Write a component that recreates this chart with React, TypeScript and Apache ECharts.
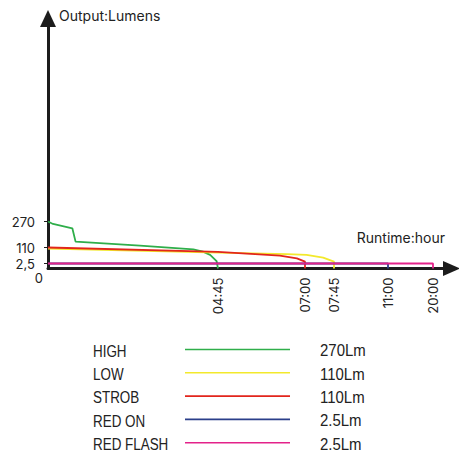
import React, { useEffect, useRef } from 'react';
import * as echarts from 'echarts';

// runtime axis ticks (hours) and their labels
const X_TICK_HOURS = [4.75, 7, 7.75, 11, 20];
const X_TICK_LABELS = ['04:45', '07:00', '07:45', '11:00', '20:00'];

// output axis ticks (lumens) and their labels
const Y_TICK_LUMENS = [0, 2.5, 110, 270];
const Y_TICK_LABELS = ['0', '2,5', '110', '270'];

// the drawing is not linear: these knots give where each value sits on the axis (px from origin)
const X_KNOT_HOURS = [0, 4.75, 7, 7.75, 11, 20];
const X_KNOT_POS = [0, 170, 257, 286, 340, 385];
const Y_KNOT_LUMENS = [0, 2.5, 110, 270];
const Y_KNOT_POS = [0, 5, 21, 47];

const SERIES_NAMES = ['HIGH', 'LOW', 'STROB', 'RED ON', 'RED FLASH'];
const SERIES_COLORS = ['#2fae4a', '#f3e92c', '#e2251c', '#2b3f8a', '#e3228a'];
const LEGEND_VALUES = ['270Lm', '110Lm', '110Lm', '2.5Lm', '2.5Lm'];

// [hours, lumens]
const HIGH = [
  [0, 270], [0.14, 255], [0.68, 228], [0.77, 146], [2.57, 121], [4.06, 98],
  [4.33, 82], [4.53, 60], [4.71, 19], [4.75, 0]
];
const LOW = [
  [0, 102], [4.75, 76], [6.53, 66], [7.04, 60], [7.47, 42], [7.75, 15], [7.75, 0]
];
const STROB = [
  [0, 110], [4.75, 80], [6.35, 55], [6.79, 37], [7, 15], [7, 0]
];
const RED_ON = [[0, 2.5], [11, 2.5], [11, 0]];
const RED_FLASH = [[0, 2.5], [20, 2.5], [20, 0]];

const SERIES_DATA = [HIGH, LOW, STROB, RED_ON, RED_FLASH];

const interp = (v: number, from: number[], to: number[]) => {
  for (let i = 1; i < from.length; i++) {
    if (v <= from[i]) {
      const t = (v - from[i - 1]) / (from[i] - from[i - 1]);
      return to[i - 1] + t * (to[i] - to[i - 1]);
    }
  }
  return to[to.length - 1];
};
const xPos = (h: number) => interp(h, X_KNOT_HOURS, X_KNOT_POS);
const yPos = (l: number) => interp(l, Y_KNOT_LUMENS, Y_KNOT_POS);

const FONT = 'Inter, "Noto Sans", sans-serif';
const LEGEND_FONT = '"Liberation Sans", Arial, sans-serif';

const GRID_LEFT = 48;
const GRID_TOP = 18.5;
const GRID_RIGHT = 15.5;
const GRID_BOTTOM = 193.5;
const X_MAX = 467 - GRID_LEFT - GRID_RIGHT;
const Y_MAX = 462 - GRID_TOP - GRID_BOTTOM;

// legend table below the chart
const LEGEND_TOP = 349.5;
const LEGEND_ROW = 23.3;

const App = () => {
  const chartRef = useRef<HTMLDivElement | null>(null);

  useEffect(() => {
    if (!chartRef.current) return;
    const chart = echarts.init(chartRef.current, null, { renderer: 'svg' });

    const xTickPos = X_TICK_HOURS.map(xPos);
    const yTickPos = Y_TICK_LUMENS.map(yPos);
    const axisColor = '#1c1c1c';

    // condensed look of the original legend lettering
    const legendText = (text: string, x: number, y: number, sx: number) => ({
      type: 'text',
      x,
      y: y + 1,
      scaleX: sx,
      silent: true,
      style: {
        text,
        fill: '#222',
        font: `17px ${LEGEND_FONT}`,
        align: 'left',
        verticalAlign: 'middle'
      }
    });

    const legendRows = SERIES_NAMES.flatMap((name, k) => {
      const y = LEGEND_TOP + k * LEGEND_ROW;
      return [
        legendText(name, 93, y, 0.79),
        {
          type: 'line',
          silent: true,
          shape: { x1: 185, y1: y, x2: 290, y2: y },
          style: { stroke: SERIES_COLORS[k], lineWidth: 1.6 }
        },
        legendText(LEGEND_VALUES[k], 320, y, 0.88)
      ];
    });

    chart.setOption({
      animation: false,
      grid: { left: GRID_LEFT, top: GRID_TOP, right: GRID_RIGHT, bottom: GRID_BOTTOM },
      xAxis: {
        type: 'value',
        min: 0,
        max: X_MAX,
        name: 'Runtime:hour',
        nameLocation: 'end',
        nameGap: -6.5,
        nameTextStyle: {
          fontFamily: FONT, fontSize: 14, color: '#222',
          align: 'right', verticalAlign: 'bottom', padding: [0, 0, 24, 0]
        },
        axisLine: {
          show: true,
          symbol: ['none', 'triangle'],
          symbolSize: [15, 17],
          lineStyle: { color: axisColor, width: 3 }
        },
        axisTick: { show: false },
        splitLine: { show: false },
        axisLabel: {
          customValues: xTickPos,
          rotate: 90,
          margin: 9,
          fontFamily: FONT,
          fontSize: 13,
          color: '#222',
          formatter: (v: number) => {
            const i = xTickPos.findIndex(p => Math.abs(p - v) < 0.01);
            return i >= 0 ? X_TICK_LABELS[i] : '';
          }
        }
      },
      yAxis: {
        type: 'value',
        min: 0,
        max: Y_MAX,
        name: 'Output:Lumens',
        nameLocation: 'end',
        nameGap: 3.5,
        nameTextStyle: {
          fontFamily: FONT, fontSize: 14, color: '#222',
          align: 'left', verticalAlign: 'middle', padding: [0, 0, 0, 11]
        },
        axisLine: {
          show: true,
          symbol: ['none', 'triangle'],
          symbolSize: [16, 17],
          lineStyle: { color: axisColor, width: 3 }
        },
        axisTick: {
          show: true,
          customValues: yTickPos.slice(1),
          length: 4,
          lineStyle: { color: axisColor, width: 1 }
        },
        splitLine: { show: false },
        axisLabel: {
          customValues: yTickPos,
          margin: 5,
          fontFamily: FONT,
          fontSize: 13,
          color: '#222',
          formatter: (v: number) => {
            const i = yTickPos.findIndex(p => Math.abs(p - v) < 0.01);
            if (i < 0) return '';
            return i === 0 ? `{z|${Y_TICK_LABELS[i]}}` : `{n|${Y_TICK_LABELS[i]}}`;
          },
          rich: {
            z: { fontFamily: FONT, fontSize: 13, color: '#222', padding: [19, 0, 0, 0] },
            n: { fontFamily: FONT, fontSize: 13, color: '#222', padding: [0, 8, 0, 0] }
          }
        }
      },
      graphic: legendRows,
      series: SERIES_NAMES.map((name, k) => ({
        name,
        type: 'line',
        showSymbol: false,
        symbol: 'none',
        z: k === 4 ? 3 : 2,
        itemStyle: { color: SERIES_COLORS[k] },
        lineStyle: { color: SERIES_COLORS[k], width: 1.8 },
        data: SERIES_DATA[k].map(([h, l]) => [xPos(h), yPos(l)])
      }))
    });

    return () => {
      chart.dispose();
    };
  }, []);

  return <div ref={chartRef} style={{ width: 467, height: 462, margin: -8 }} />;
};

export default App;
